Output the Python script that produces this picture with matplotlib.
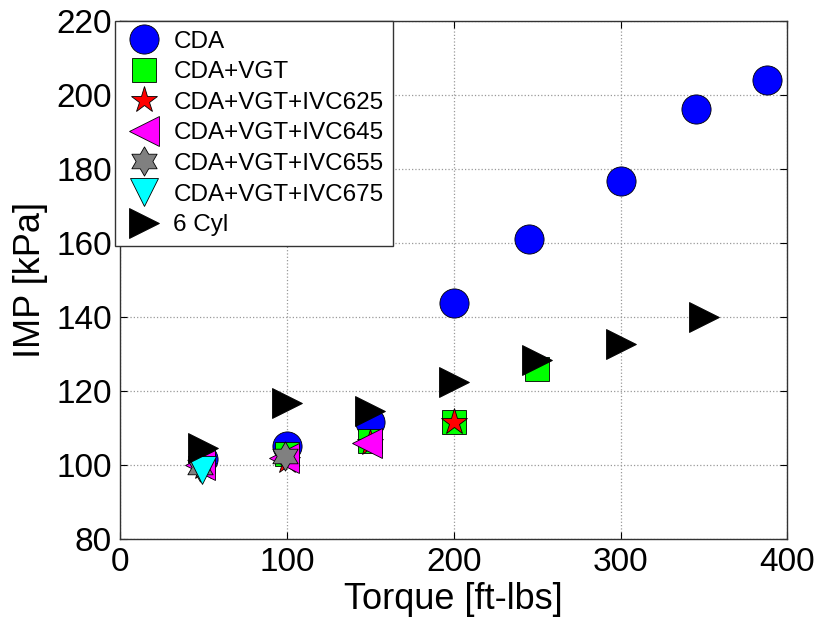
import numpy as np
import matplotlib
matplotlib.use('Agg')
import matplotlib.pyplot as plt
from matplotlib.path import Path

plt.rcParams['font.family'] = ['Liberation Sans', 'DejaVu Sans']

# data
cda_x = [50, 100, 150, 200, 245, 300, 345, 388]
cda_y = [101.5, 105, 111.5, 143.8, 161.2, 176.9, 196.2, 204.2]

vgt_x = [50, 100, 150, 200, 250]
vgt_y = [101, 103, 106.5, 111.5, 126]

ivc625_x = [50, 100, 150, 200]
ivc625_y = [99.5, 101, 106, 111.5]

ivc645_x = [48, 98, 148]
ivc645_y = [100, 102, 106]

ivc655_x = [48, 99]
ivc655_y = [99.5, 102.3]

ivc675_x = [49]
ivc675_y = [98.5]

cyl6_x = [50, 100, 150, 200, 250, 300, 350]
cyl6_y = [104.6, 116.8, 114.7, 122.4, 128.3, 132.8, 140]

labels = ['CDA', 'CDA+VGT', 'CDA+VGT+IVC625', 'CDA+VGT+IVC645',
          'CDA+VGT+IVC655', 'CDA+VGT+IVC675', '6 Cyl']

hexagram = Path.unit_regular_star(6, 0.577)

fig = plt.figure(figsize=(8.22, 6.23), dpi=100)
ax = fig.add_axes([0.146, 0.135, 0.812, 0.831])

ec = 'k'
ew = 0.6
ax.plot(cda_x, cda_y, 'o', ms=21, mfc='#0000ff', mec=ec, mew=ew, label=labels[0])
ax.plot(vgt_x, vgt_y, 's', ms=17.5, mfc='#00ff00', mec=ec, mew=ew, label=labels[1])
ax.plot(ivc625_x, ivc625_y, '*', ms=20, mfc='#ff0000', mec=ec, mew=ew, label=labels[2])
ax.plot(ivc645_x, ivc645_y, '<', ms=21, mfc='#ff00ff', mec=ec, mew=ew, label=labels[3])
ax.plot(ivc655_x, ivc655_y, marker=hexagram, ls='none', ms=21, mfc='#808080', mec=ec, mew=ew, label=labels[4])
ax.plot(ivc675_x, ivc675_y, 'v', ms=20, mfc='#00ffff', mec=ec, mew=ew, label=labels[5])
ax.plot(cyl6_x, cyl6_y, '>', ms=22, mfc='k', mec=ec, mew=ew, label=labels[6])

ax.set_xlim(0, 400)
ax.set_ylim(80, 220)
ax.set_xticks(np.arange(0, 401, 100))
ax.set_yticks(np.arange(80, 221, 20))
ax.grid(True, ls=':', color='0.6', lw=0.9)
ax.tick_params(direction='in', length=5, top=True, right=True, labelsize=24, pad=6)
for s in ax.spines.values():
    s.set_color('0.2')
    s.set_linewidth(1)

ax.set_xlabel('Torque [ft-lbs]', fontsize=26, labelpad=3)
ax.set_ylabel('IMP [kPa]', fontsize=26, labelpad=6)

leg = ax.legend(loc='upper left', bbox_to_anchor=(-0.0075, 1.0), borderaxespad=0,
                fontsize=17.5, frameon=True, fancybox=False, framealpha=1,
                edgecolor='0.2', labelspacing=0.35, handlelength=1.6,
                handletextpad=0.4, borderpad=0.4)
leg.get_frame().set_linewidth(1)

fig.savefig('out.png', dpi=100)
